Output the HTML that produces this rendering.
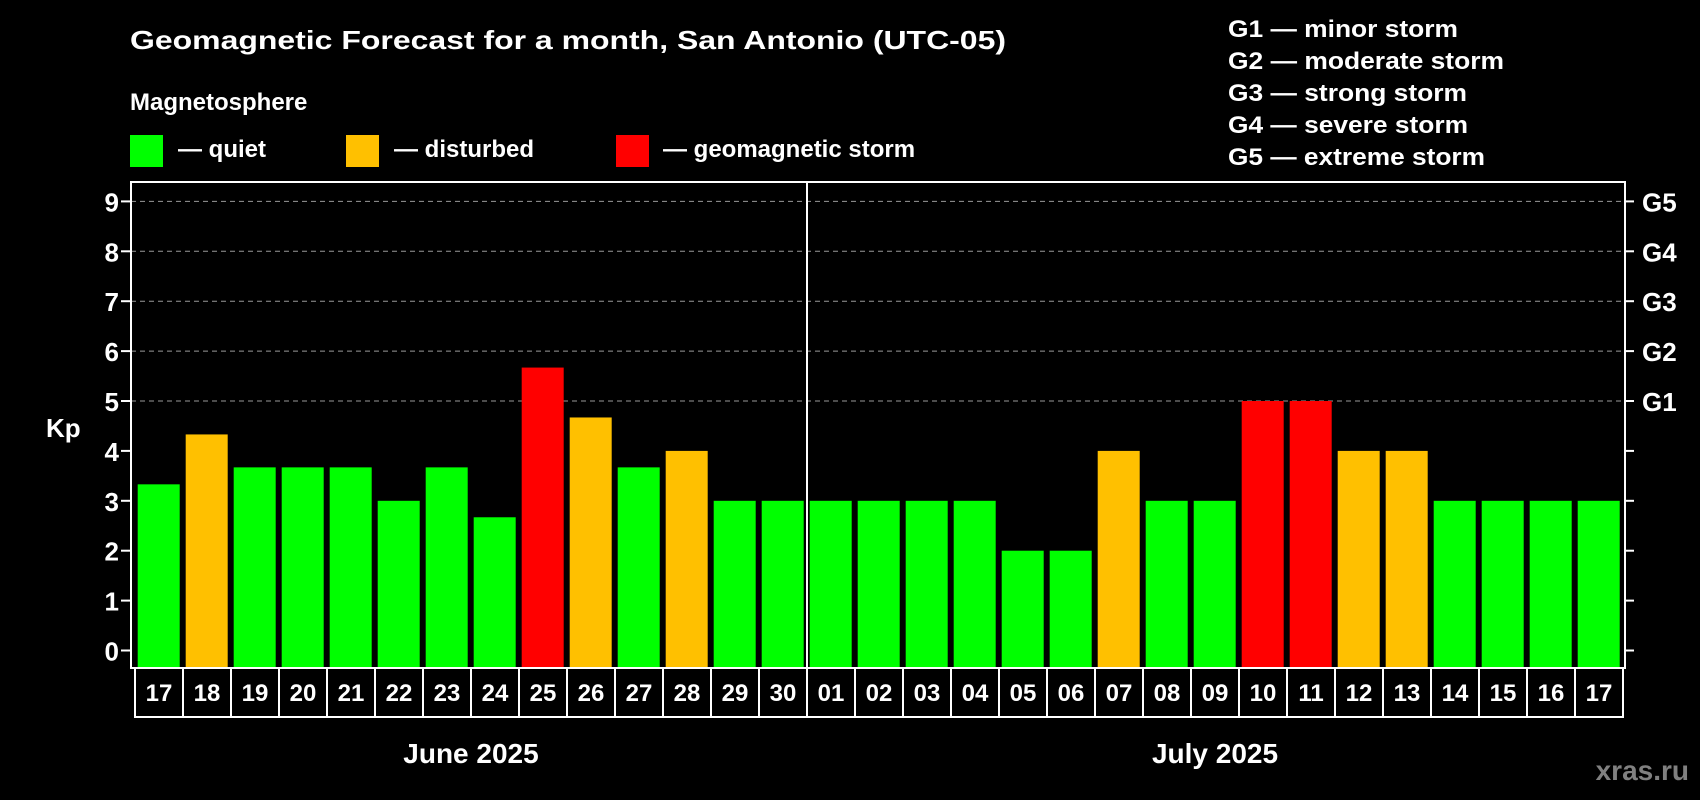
<!DOCTYPE html>
<html><head><meta charset="utf-8"><style>
html,body{margin:0;padding:0;background:#000;}
svg{display:block;font-family:"Liberation Sans",Arial,sans-serif;font-weight:bold;}
</style></head><body>
<svg id="chart" width="1700" height="800" viewBox="0 0 1700 800" xmlns="http://www.w3.org/2000/svg">
<rect x="0" y="0" width="1700" height="800" fill="#000"/>
<text x="130" y="49" font-size="26" fill="#fff" textLength="876" lengthAdjust="spacingAndGlyphs">Geomagnetic Forecast for a month, San Antonio (UTC-05)</text>
<text x="130" y="110" font-size="24" fill="#fff">Magnetosphere</text>
<g><rect x="130" y="135" width="33" height="32" fill="#00ff00"/><text x="178" y="157" font-size="24" fill="#fff">— quiet</text></g>
<g><rect x="346" y="135" width="33" height="32" fill="#ffc000"/><text x="394" y="157" font-size="24" fill="#fff">— disturbed</text></g>
<g><rect x="616" y="135" width="33" height="32" fill="#ff0000"/><text x="663" y="157" font-size="24" fill="#fff">— geomagnetic storm</text></g>
<g font-size="24" fill="#fff">
<text x="1228" y="37" textLength="230" lengthAdjust="spacingAndGlyphs">G1 — minor storm</text>
<text x="1228" y="69" textLength="276" lengthAdjust="spacingAndGlyphs">G2 — moderate storm</text>
<text x="1228" y="101" textLength="239" lengthAdjust="spacingAndGlyphs">G3 — strong storm</text>
<text x="1228" y="133" textLength="240" lengthAdjust="spacingAndGlyphs">G4 — severe storm</text>
<text x="1228" y="165" textLength="257" lengthAdjust="spacingAndGlyphs">G5 — extreme storm</text>
</g>
<text x="46" y="437" font-size="26" fill="#fff">Kp</text>
<text x="1689" y="780" font-size="28" fill="#808080" text-anchor="end">xras.ru</text>
<g id="plot"></g>
</svg>
<script>
const days = ["17","18","19","20","21","22","23","24","25","26","27","28","29","30","01","02","03","04","05","06","07","08","09","10","11","12","13","14","15","16","17"];
const kpValues = [3.33,4.33,3.67,3.67,3.67,3,3.67,2.67,5.67,4.67,3.67,4,3,3,3,3,3,3,2,2,4,3,3,5,5,4,4,3,3,3,3];
const yTicks = [0,1,2,3,4,5,6,7,8,9];
const gLabels = ["G1","G2","G3","G4","G5"];
const gLevels = [5,6,7,8,9];
const months = ["June 2025","July 2025"];
const monthStart = [0,14];
const monthEnd = [14,31];

const NS="http://www.w3.org/2000/svg";
const plot=document.getElementById('plot');
const plotLeft=131,plotRight=1625,plotTop=182,plotBottom=668,x0=135,slot=48;
const yScale=v=>650.5-49.9*v;
const xs=i=>x0+i*slot;
function mk(tag,attrs,parent){const e=document.createElementNS(NS,tag);for(const k in attrs)e.setAttribute(k,attrs[k]);(parent||plot).appendChild(e);return e;}
gLevels.forEach((v,i)=>{
  const l=mk('line',{x1:plotLeft,x2:plotRight,y1:yScale(v),y2:yScale(v),stroke:'#999','stroke-dasharray':'5,4','stroke-width':1});
  
  
  const t=mk('text',{x:1642,y:yScale(v)+10,'font-size':26,fill:'#fff'});t.textContent=gLabels[i];
  
  
});
yTicks.forEach(v=>{
  mk('line',{x1:121,x2:plotLeft,y1:yScale(v),y2:yScale(v),stroke:'#fff','stroke-width':2});
  mk('line',{x1:plotRight,x2:plotRight+9,y1:yScale(v),y2:yScale(v),stroke:'#fff','stroke-width':2});
  const t=mk('text',{x:119,y:yScale(v)+10,'font-size':26,fill:'#fff','text-anchor':'end'});t.textContent=v;
  
  
});
kpValues.forEach((v,i)=>{
  const c=v>=5?'#ff0000':(v>=4?'#ffc000':'#00ff00');
  const r=mk('rect',{x:xs(i)+2.7,y:yScale(v),width:42,height:plotBottom-yScale(v),fill:c});
  
  
});
const f=mk('rect',{x:plotLeft,y:plotTop,width:plotRight-plotLeft,height:plotBottom-plotTop,fill:'none',stroke:'#fff','stroke-width':2});


const dv=mk('line',{x1:xs(14),x2:xs(14),y1:plotTop,y2:plotBottom,stroke:'#fff','stroke-width':2});


days.forEach((dd,i)=>{
  const b=mk('rect',{x:xs(i),y:plotBottom,width:slot,height:49,fill:'none',stroke:'#fff','stroke-width':2});
  
  
  const t=mk('text',{x:xs(i)+slot/2,y:701,'font-size':24,fill:'#fff','text-anchor':'middle'});t.textContent=dd;
  
  
});
months.forEach((m,i)=>{
  const t=mk('text',{x:(xs(monthStart[i])+xs(monthEnd[i]))/2,y:763,'font-size':28,fill:'#fff','text-anchor':'middle'});t.textContent=m;
  
  
});
</script>
</body></html>
